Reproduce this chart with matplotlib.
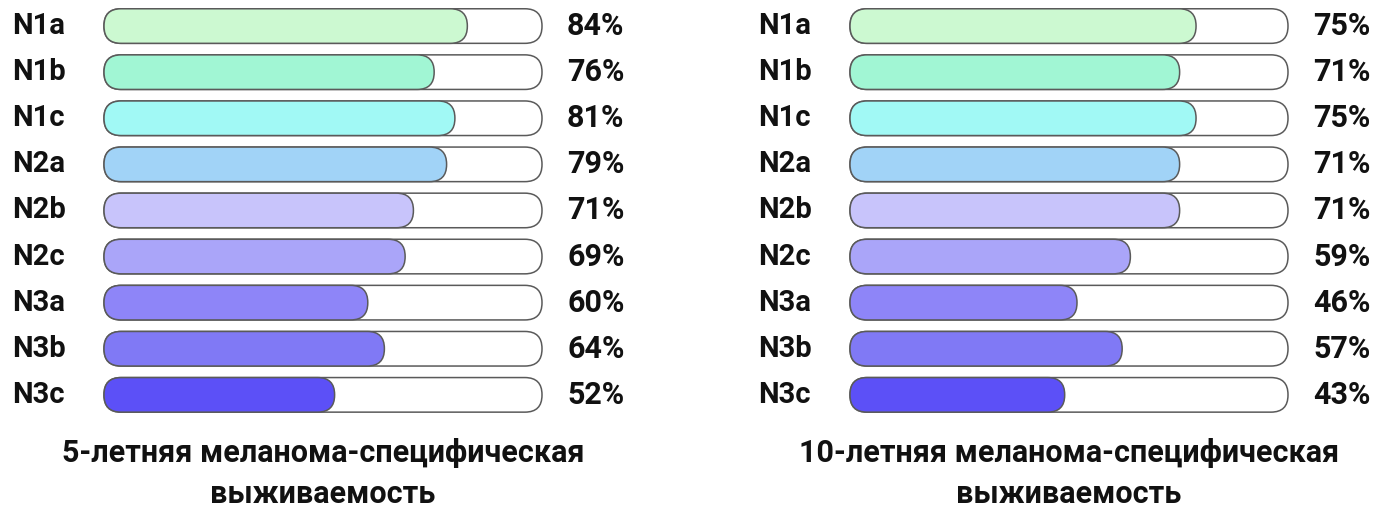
import matplotlib
matplotlib.use("Agg")
import matplotlib.pyplot as plt
from matplotlib.patches import FancyBboxPatch
from matplotlib.transforms import blended_transform_factory

plt.rcParams['font.family'] = ['Roboto', 'DejaVu Sans']

# data
stages = ["N1a", "N1b", "N1c", "N2a", "N2b", "N2c", "N3a", "N3b", "N3c"]
surv_5y = [84, 76, 81, 79, 71, 69, 60, 64, 52]
surv_10y = [75, 71, 75, 71, 71, 59, 46, 57, 43]
colors = ["#ccf9d1", "#a1f6d4", "#a1f9f5", "#a1d3f7", "#c8c4fb",
          "#aaa5f9", "#8e85f8", "#8079f5", "#5c50f7"]
titles = ["5-летняя меланома-специфическая", "10-летняя меланома-специфическая"]
subtitle = "выживаемость"

W, H = 1386, 512
fig = plt.figure(figsize=(W / 100, H / 100), dpi=100)

# track scale per panel (as drawn in the source)
track_lims = [(-3.6, 102.0), (-9.3, 97.4)]
lefts = [104, 850]
track_w = 438
row_h = 46.1
bar_h = 0.75
radius_px = 17

for k, (vals, lim) in enumerate(zip([surv_5y, surv_10y], track_lims)):
    top = 3
    ax = fig.add_axes([lefts[k] / W, 1 - (top + 9 * row_h) / H,
                       track_w / W, 9 * row_h / H])
    ax.set_xlim(lim)
    ax.set_ylim(8.5, -0.5)
    ax.axis("off")
    sx = track_w / (lim[1] - lim[0])
    sy = row_h
    r = radius_px / sx
    asp = sx / sy
    tr = blended_transform_factory(ax.transAxes, ax.transData)
    for i, (lab, v) in enumerate(zip(stages, vals)):
        y0 = i - bar_h / 2
        track = FancyBboxPatch((lim[0], y0), lim[1] - lim[0], bar_h,
                               boxstyle=f"round,pad=0,rounding_size={r}",
                               mutation_aspect=asp,
                               facecolor="white", edgecolor="#5a5a5a",
                               linewidth=1.1, clip_on=False)
        ax.add_patch(track)
        bar = FancyBboxPatch((lim[0], y0), v - lim[0], bar_h,
                             boxstyle=f"round,pad=0,rounding_size={r}",
                             mutation_aspect=asp,
                             facecolor=colors[i], edgecolor="#5a5a5a",
                             linewidth=1.1, clip_on=False)
        ax.add_patch(bar)
        ax.text(-92 / track_w, i, lab, transform=tr, ha="left", va="center",
                fontsize=21, fontweight="bold", color="#111111")
        ax.text(1 + 25 / track_w, i, f"{v}%", transform=tr, ha="left",
                va="center", fontsize=22, fontweight="bold", color="#111111")
    cx = (lefts[k] + track_w / 2) / W
    fig.text(cx, 1 - 453 / H, titles[k], ha="center", va="center",
             fontsize=22, fontweight="bold", color="#111111")
    fig.text(cx, 1 - 494 / H, subtitle, ha="center", va="center",
             fontsize=22, fontweight="bold", color="#111111")

fig.savefig("out.png", dpi=100)
